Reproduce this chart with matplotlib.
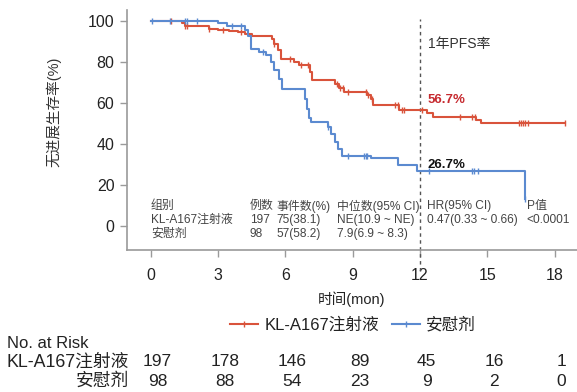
import numpy as np
import matplotlib
matplotlib.use("Agg")
import matplotlib.pyplot as plt
import matplotlib.transforms as mtransforms
from matplotlib.lines import Line2D

plt.rcParams['font.family'] = ['Liberation Sans', 'Noto Sans CJK SC', 'DejaVu Sans']

RED = "#d9533b"
BLUE = "#5b8ad0"
GREY = "#9a9a9a"
TEXT = "#333333"

# KL-A167 step curve: time of each step (months) and survival after it (%)
kl_times = [0, 1.4, 1.5, 2.6, 3.0, 3.5, 3.9, 4.2, 4.5, 5.4, 5.5, 5.65, 5.8, 6.4, 6.6,
            7.1, 7.2, 8.2, 8.4, 8.6, 9.65, 9.8, 9.9, 11.05, 12.3, 12.6, 14.5, 14.7]
kl_surv = [100, 99, 97.6, 96.4, 95.8, 95.2, 94.6, 94.0, 92.7, 91.5, 89, 86, 81.8, 80.3, 78.5,
           75, 71.3, 69.6, 67.6, 65.5, 64, 62, 59.2, 56.7, 55, 53.2, 52, 50.4]
kl_end = 18.46
kl_censor = [0.9, 1.5, 1.6, 2.6, 3.2, 4.0, 5.5, 6.2, 6.7, 7.0, 8.3, 8.45, 8.55, 8.8,
             9.6, 9.7, 9.85, 10.9, 11.0, 11.2, 11.3, 12.1, 13.8, 14.3, 14.45,
             16.4, 16.5, 16.6, 16.7, 16.8, 18.46]

# placebo step curve
pl_times = [0, 3.0, 3.4, 4.2, 4.35, 4.45, 4.8, 5.15, 5.35, 5.5, 5.7, 5.85, 6.85, 6.95,
            7.05, 7.15, 7.9, 8.05, 8.2, 8.35, 8.5, 9.8, 11.0, 11.85, 16.7]
pl_surv = [100, 99, 97.6, 95.5, 93, 86.5, 85, 83.5, 80, 76, 72, 66.7, 62, 57,
           53, 51, 48.5, 45, 41, 37.5, 34.2, 33.2, 29.7, 26.7, 13.4]
pl_end = 16.7
pl_censor = [0.05, 0.85, 1.5, 1.6, 2.05, 3.6, 4.0, 5.0, 7.9, 8.8, 9.5, 9.6, 9.65,
             12.4, 14.3, 14.4, 14.6, 16.7]

x_ticks = [0, 3, 6, 9, 12, 15, 18]
y_ticks = [0, 20, 40, 60, 80, 100]

kl_risk = [197, 178, 146, 89, 45, 16, 1]
pl_risk = [98, 88, 54, 23, 9, 2, 0]

table_header = ["组别", "例数", "事件数(%)", "中位数(95% CI)", "HR(95% CI)", "P值"]
table_kl = ["KL-A167注射液", "197", "75(38.1)", "NE(10.9 ~ NE)", "0.47(0.33 ~ 0.66)", "<0.0001"]
table_pl = ["安慰剂", "98", "57(58.2)", "7.9(6.9 ~ 8.3)", "", ""]


def step_value(times, surv, t):
    idx = np.searchsorted(times, t, side="right") - 1
    return np.asarray(surv)[idx]


def draw_km(ax, times, surv, end, censor, color):
    xs = list(times) + [end]
    ys = list(surv) + [surv[-1]]
    ax.step(xs, ys, where="post", color=color, lw=1.5, zorder=3)
    c = np.asarray(censor)
    ax.plot(c, step_value(times, surv, c), ls="none", marker="|", ms=5,
            mew=1.0, color=color, zorder=3)


fig = plt.figure(figsize=(5.77, 3.92), dpi=100)
ax = fig.add_axes([0.220, 0.362, 0.780, 0.612])

draw_km(ax, kl_times, kl_surv, kl_end, kl_censor, RED)
draw_km(ax, pl_times, pl_surv, pl_end, pl_censor, BLUE)

ax.set_xlim(-1.07, 19.0)
ax.set_ylim(-11.7, 105.4)
ax.set_xticks(x_ticks)
ax.set_yticks(y_ticks)
ax.tick_params(axis="y", length=5, width=1.0, color=GREY, pad=4,
               labelsize=11.5, labelcolor="#222222")
ax.tick_params(axis="x", length=5, width=1.0, color=GREY, pad=8,
               labelsize=11.5, labelcolor="#222222")
for s in ["top", "right"]:
    ax.spines[s].set_visible(False)
for s in ["left", "bottom"]:
    ax.spines[s].set_color(GREY)
    ax.spines[s].set_linewidth(1.2)

ax.set_xlabel("时间(mon)", fontsize=10.5, color="#222222", labelpad=6)
fig.text(54 / 577, 1 - 112 / 392, "无进展生存率(%)", rotation=90, ha="center",
         va="center", fontsize=10.5, color="#333333")

# 1-year marker
ax.plot([12, 12], [-22, 101], ls=(0, (2.5, 2.5)), color="#555555", lw=1.0,
        clip_on=False, zorder=2)
ax.text(12.35, 89, "1年PFS率", fontsize=10, color=TEXT, va="center")
ax.text(12.35, 61.5, "56.7%", fontsize=9.5, color="#c62a2f", fontweight="bold", va="center")
ax.text(12.35, 30, "26.7%", fontsize=9.5, color="#111111", fontweight="bold", va="center")

# summary table inside plot
col_x = [0.0, 4.4, 5.6, 8.3, 12.3, 16.75]
row_y = [9.8, 3.0, -3.8]
for row, y in zip([table_header, table_kl, table_pl], row_y):
    for text, x in zip(row, col_x):
        ax.text(x, y, text, fontsize=8.6, color="#444444", va="center", ha="left")

# legend
handles = [Line2D([], [], color=RED, lw=1.5, marker="|", ms=5, mew=1.0),
           Line2D([], [], color=BLUE, lw=1.5, marker="|", ms=5, mew=1.0)]
fig.legend(handles, ["KL-A167注射液", "安慰剂"], loc="center",
           bbox_to_anchor=(0.612, 1 - 325 / 392), ncol=2, frameon=False,
           fontsize=12, handlelength=1.7, handletextpad=0.35, columnspacing=0.8,
           labelcolor="#222222")

# number at risk
fig.text(7 / 577, 1 - 343 / 392, "No. at Risk", fontsize=12, color="#222222",
         va="center", ha="left")
trans = mtransforms.blended_transform_factory(ax.transData, fig.transFigure)
for label, counts, y in [("KL-A167注射液", kl_risk, 1 - 362 / 392),
                          ("安慰剂", pl_risk, 1 - 381 / 392)]:
    fig.text(129 / 577, y, label, fontsize=12.8, color="#222222", va="center", ha="right")
    for x, n in zip(x_ticks, counts):
        ax.text(x + 0.3, y, str(n), transform=trans, fontsize=12.5, color="#222222",
                va="center", ha="center")

fig.savefig("out.png", dpi=100)
